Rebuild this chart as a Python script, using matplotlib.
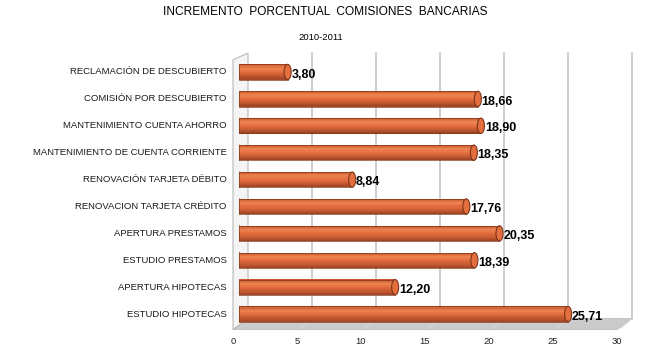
import numpy as np
import matplotlib
matplotlib.use("Agg")
import matplotlib.pyplot as plt
from matplotlib.patches import Ellipse, Polygon
from matplotlib.colors import LinearSegmentedColormap

plt.rcParams['font.family'] = ['Liberation Sans', 'DejaVu Sans']

# data
categories = ["RECLAMACIÓN DE DESCUBIERTO",
              "COMISIÓN POR DESCUBIERTO",
              "MANTENIMIENTO CUENTA AHORRO",
              "MANTENIMIENTO DE CUENTA CORRIENTE",
              "RENOVACIÓN TARJETA DÉBITO",
              "RENOVACION TARJETA CRÉDITO",
              "APERTURA PRESTAMOS",
              "ESTUDIO PRESTAMOS",
              "APERTURA HIPOTECAS",
              "ESTUDIO HIPOTECAS"]
values = [3.80, 18.66, 18.90, 18.35, 8.84, 17.76, 20.35, 18.39, 12.20, 25.71]
ticks = [0, 5, 10, 15, 20, 25, 30]

W, H = 650, 358
fig = plt.figure(figsize=(W / 100, H / 100), dpi=100)

# axes in pixel terms: x 0 -> 239px, 30 -> 239+30*12.8 ; rows 72..314px
x0, sx = 239, 12.8
y_top, sy = 72 - 0.5 * 26.9, 26.9
ax = fig.add_axes([x0 / W, (H - (y_top + 10 * sy)) / H, 30 * sx / W, 10 * sy / H])
ax.set_xlim(0, 30)
ax.set_ylim(9.5, -0.5)
ax.axis('off')

# 3d offsets (data units)
fx, fy = -6 / sx, 2 / sy      # front edge
bx, by = 9 / sx, -9 / sy      # back wall
top = -0.5 - 5.5 / sy

# floor
floor = Polygon([(0 + fx, 9.5 + fy), (30 + fx, 9.5 + fy),
                 (30 + bx, 9.5 + by), (0 + bx, 9.5 + by)],
                closed=True, facecolor='#cbcbcb', edgecolor='#bdbdbd',
                lw=0.6, clip_on=False, zorder=1)
ax.add_patch(floor)

# left wall
wall = Polygon([(0 + fx, 9.5 + fy), (0 + fx, top + 0.25),
                (0 + bx, top), (0 + bx, 9.5 + by)],
               closed=True, facecolor='#f4f4f4', edgecolor='#b8b8b8',
               lw=0.8, clip_on=False, zorder=1)
ax.add_patch(wall)

# back gridlines
for t in ticks[1:]:
    ax.plot([t + bx, t + bx], [9.5 + by, top], color='#c0c0c0', lw=1.1,
            clip_on=False, zorder=1)
    ax.plot([t + fx + 0.3, t + bx], [9.5 + fy - 0.05, 9.5 + by], color='#d8d8d8',
            lw=0.6, clip_on=False, zorder=1)

# cylinder bars
cmap = LinearSegmentedColormap.from_list('cyl', ['#cc5a30', '#ee8452', '#e36e3e',
                                                 '#c95b32', '#a04626'])
bh = 0.57
n = 14
ycat = np.arange(len(values))
for k in range(n):
    off = -bh / 2 + (k + 0.5) * bh / n
    ax.barh(ycat + off, values, height=bh / n + 0.004, color=cmap(k / (n - 1)),
            lw=0, zorder=3)
ax.barh(ycat, values, height=bh, facecolor='none', edgecolor='#803819',
        lw=0.5, zorder=4)
for i, v in enumerate(values):
    ax.add_patch(Ellipse((0, i), 0.45, bh, facecolor='#c65a32',
                         edgecolor='#803819', lw=0.5, zorder=2))
    ax.add_patch(Ellipse((v, i), 0.55, bh, facecolor='#e36e3e',
                         edgecolor='#7d3518', lw=0.8, zorder=5))
    ax.text(v + 0.3, i + 0.1, f"{v:.2f}".replace('.', ','), fontsize=9,
            fontweight='bold', ha='left', va='center', zorder=6)
    ax.text(-0.95, i, categories[i], fontsize=6.8, ha='right', va='center',
            color='#1a1a1a', clip_on=False)

for t in ticks:
    ax.text(t + fx, 10.02, str(t), fontsize=6.8, ha='center', va='center',
            color='#222222', clip_on=False)

fig.text(0.5, 1 - 12 / H, "INCREMENTO  PORCENTUAL  COMISIONES  BANCARIAS",
         fontsize=8.6, ha='center', va='center')
fig.text(0.494, 1 - 38 / H, "2010-2011", fontsize=6.8, ha='center', va='center')

fig.savefig("out.png", dpi=100)
